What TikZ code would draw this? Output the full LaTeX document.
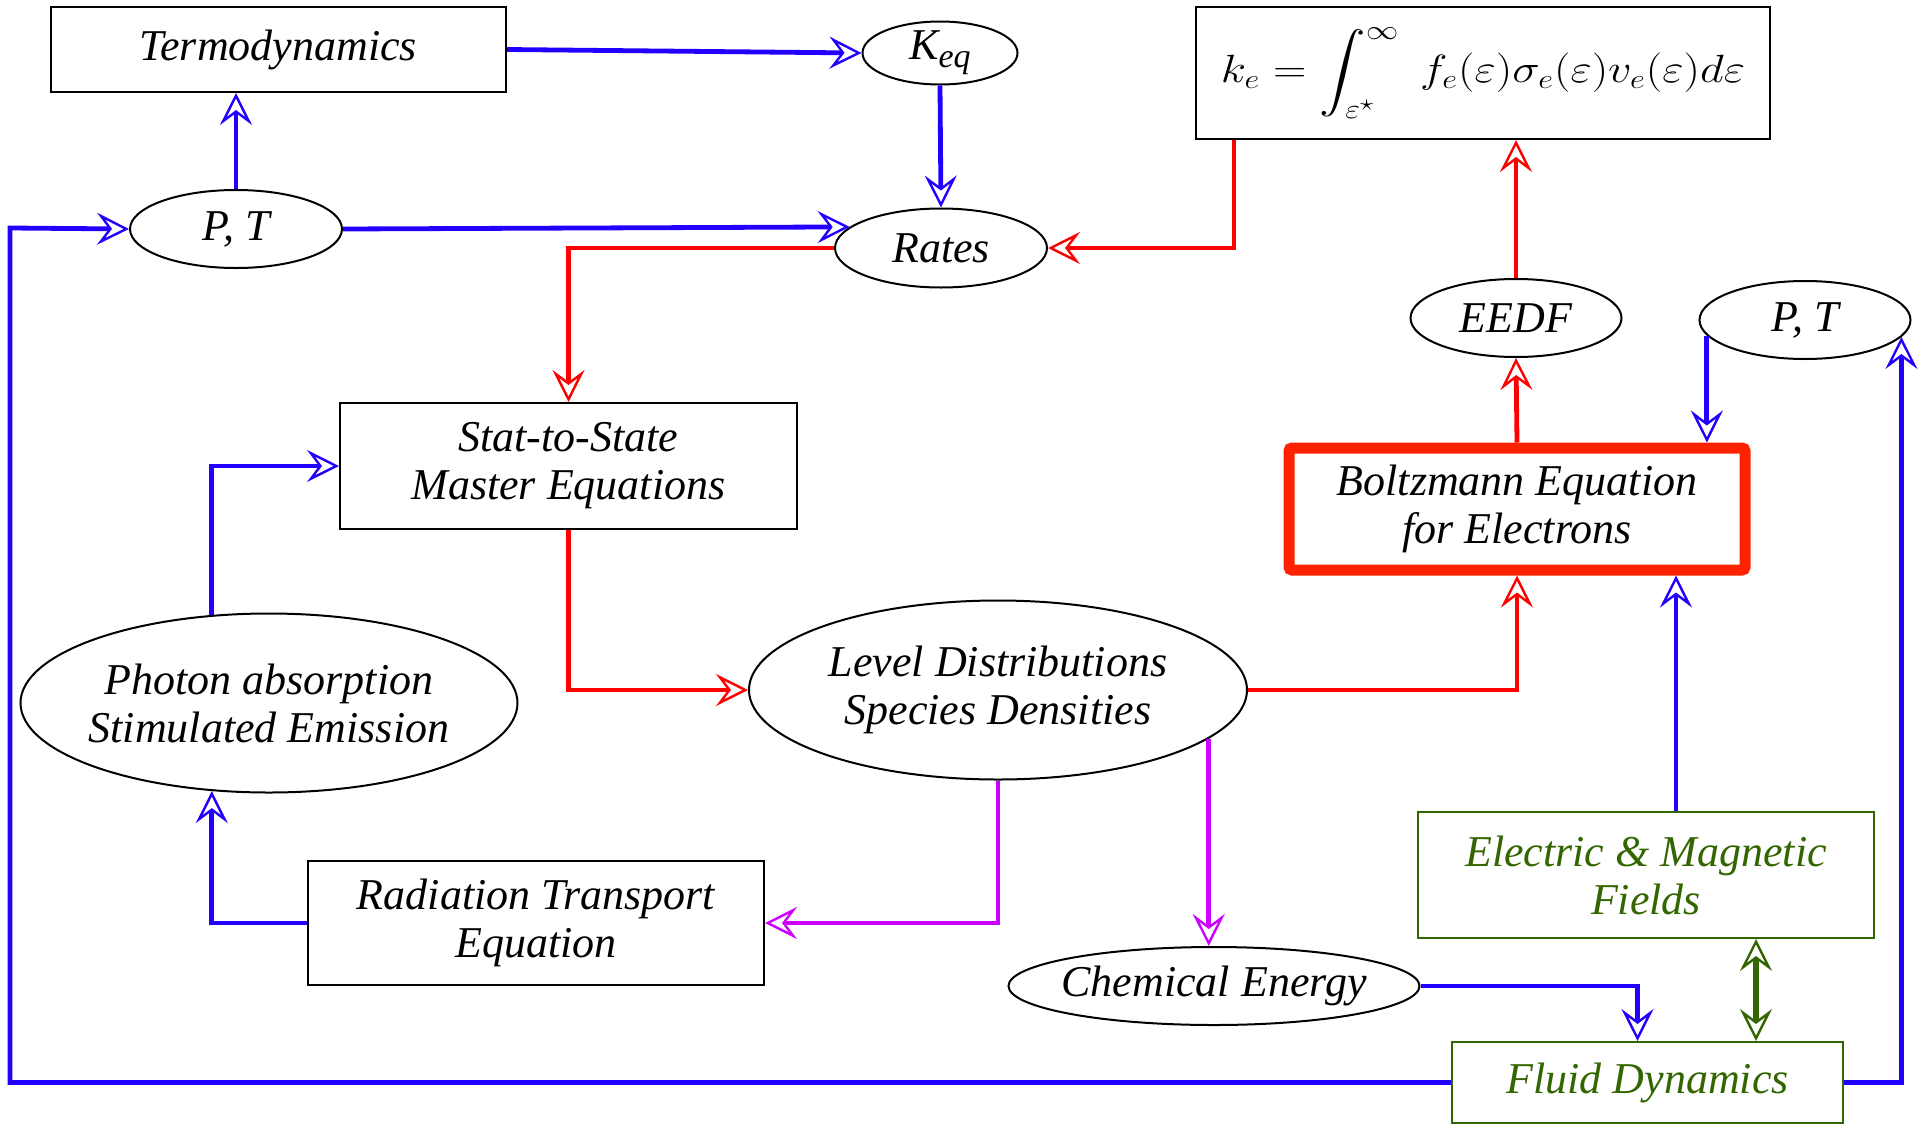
\documentclass[tikz,border=0pt]{standalone}
\usepackage{amsmath}
\usepackage{fontspec}
\setmainfont{Liberation Serif}
\usetikzlibrary{shapes.geometric,arrows.meta}
\definecolor{cblue}{RGB}{34,0,255}
\definecolor{cred}{RGB}{255,0,0}
\definecolor{cbred}{RGB}{255,34,0}
\definecolor{cmag}{RGB}{204,0,255}
\definecolor{cgreen}{RGB}{51,102,0}
\begin{document}
\begin{tikzpicture}[x=0.5pt,y=-0.5pt,
  every node/.style={font=\fontsize{22}{24}\selectfont\itshape, align=center, inner sep=0pt},
  rbox/.style={draw, rectangle, line width=1pt},
  oval/.style={draw, ellipse, line width=1pt, inner xsep=-40pt, inner ysep=-20pt},
  tiphead/.style={-{Stealth[open,length=16pt,width=16pt,inset=6pt,line width=1.2pt]}},
  bl/.style={cblue, line width=2.4pt, tiphead},
  rd/.style={cred, line width=2.4pt, tiphead},
  mg/.style={cmag, line width=2.4pt, tiphead},
]
\useasboundingbox (0,0) rectangle (1923,1130);

\node[rbox, minimum width=227.5pt, minimum height=42.5pt] (termo) at (278.5,49.5) {Termodynamics};
\node[oval, minimum width=77.5pt, minimum height=31.5pt] (keq) at (940,53) {K\raisebox{-0.4ex}{\fontsize{17}{17}\selectfont eq}};
\node[rbox, minimum width=287pt, minimum height=66pt, font=\huge] (form) at (1483,73) {\raisebox{-4.5pt}{\scalebox{1.12}[0.95]{$\displaystyle k_e=\int_{\varepsilon^\star}^{\infty}\; f_e(\varepsilon)\sigma_e(\varepsilon)v_e(\varepsilon)d\varepsilon$}}};
\node[oval, minimum width=106pt, minimum height=39pt] (ptl) at (236,229) {P, T};
\node[oval, minimum width=106pt, minimum height=39.5pt] (rates) at (941,248) {Rates};
\node[oval, minimum width=105.5pt, minimum height=39pt] (eedf) at (1516,318) {EEDF};
\node[oval, minimum width=105.5pt, minimum height=39pt] (ptr) at (1805,320) {P, T};
\node[rbox, minimum width=228.5pt, minimum height=63pt] (stat) at (568.5,466) {Stat-to-State\\Master Equations};
\node[rbox, draw=cbred, line width=5.5pt, rounded corners=1.5pt, minimum width=228pt, minimum height=61pt] (boltz) at (1517,509) {Boltzmann Equation\\for Electrons};
\node[oval, minimum width=248.5pt, minimum height=89.5pt] (photon) at (269,703) {Photon absorption\\Stimulated Emission};
\node[oval, minimum width=249pt, minimum height=89.5pt] (level) at (998,690) {Level Distributions\\Species Densities};
\node[rbox, draw=cgreen, text=cgreen, minimum width=228pt, minimum height=63pt] (elec) at (1646,875) {Electric \& Magnetic\\Fields};
\node[rbox, minimum width=228pt, minimum height=62pt] (rad) at (536,923) {Radiation Transport\\Equation};
\node[oval, minimum width=205.5pt, minimum height=39pt] (chem) at (1214,986) {Chemical Energy};
\node[rbox, draw=cgreen, text=cgreen, minimum width=195.5pt, minimum height=40.5pt] (fluid) at (1647.5,1082.5) {Fluid Dynamics};

\coordinate (rail) at (10,228);

\draw[bl] (termo.east) -- (keq.west);
\draw[bl] (ptl.north) -- (ptl.north |- termo.south);
\draw[bl] (ptl.east) -- (rates.167);
\draw[bl] (keq.south) -- (rates.north);
\draw[rd] ([xshift=19.5pt]form.south west) |- (rates.east);
\draw[rd] (rates.west) -| (stat.north);
\draw[rd] (stat.south) |- (level.west);
\draw[rd] (level.east) -| (boltz.south);
\draw[rd] (boltz.north) -- (eedf.south);
\draw[rd] (eedf.north) -- (eedf.north |- form.south);
\draw[bl] (ptr.189) -- (ptr.189 |- boltz.north);
\draw[bl] (fluid.east) -| (ptr.350);
\draw[bl] ([xshift=15pt]elec.north) -- ([xshift=15pt]elec.north |- boltz.south);
\draw[cgreen, line width=2.6pt, {Stealth[open,length=16pt,width=16pt,inset=6pt,line width=1.2pt]}-{Stealth[open,length=16pt,width=16pt,inset=6pt,line width=1.2pt]}] ([xshift=55pt]elec.south) -- ([xshift=55pt]elec.south |- fluid.north);
\draw[bl] (chem.east) -| ([xshift=-5pt]fluid.north);
\draw[mg] (level.-13) -- (level.-13 |- chem.north);
\draw[mg] (level.south) |- (rad.east);
\draw[bl] (rad.west) -| (photon.237);
\draw[bl] (photon.123) |- (stat.west);
\draw[bl] (fluid.west) -| (rail) -- (ptl.west);
\end{tikzpicture}
\end{document}
